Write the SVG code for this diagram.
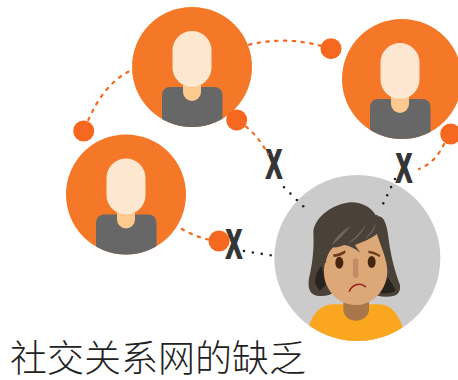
<svg xmlns="http://www.w3.org/2000/svg" width="458" height="380" viewBox="0 0 458 380">
<style>
.bg{fill:#f57828}.head{fill:#fee7d0}.neck{fill:#fcc98f}.body{fill:#666766}
.dot{fill:#f6681f}
.od{fill:none;stroke:#f6681f;stroke-width:2.200;stroke-linecap:round;stroke-dasharray:2.500 6.300}
.kd{fill:none;stroke:#222;stroke-width:2.600;stroke-linecap:round;stroke-dasharray:0 9}
.x{font-family:"Liberation Sans",sans-serif;font-weight:700;font-size:41px;fill:#353535;stroke:#353535;stroke-width:2;text-anchor:middle}
.t{font-family:"Liberation Serif","Noto Sans CJK SC",serif;font-size:37px;font-weight:300;fill:#222}
.hair{fill:#4a4238}.shade{fill:#27231f}.hl{fill:#6f675d}
</style>
<defs>
<clipPath id="ct"><circle cx="192" cy="67" r="60"/></clipPath>
<clipPath id="cr"><circle cx="402" cy="79" r="60"/></clipPath>
<clipPath id="cl"><circle cx="126" cy="194.500" r="60"/></clipPath>
<clipPath id="cg"><circle cx="157" cy="189" r="249"/></clipPath>
<g id="figure">
<rect class="body" x="-30" y="20" width="60.500" height="60" rx="8"/>
<path class="neck" d="M-9,10H9V25A9,9 0 0 1 -9,25Z"/>
<rect class="head" x="-19.500" y="-36" width="39" height="56" rx="19.500"/>
</g>
</defs>
<g id="person-top"><circle class="bg" cx="192" cy="67" r="60"/><g clip-path="url(#ct)"><use href="#figure" x="192" y="67"/></g></g>
<g id="person-right"><circle class="bg" cx="402" cy="79" r="60"/><g clip-path="url(#cr)"><use href="#figure" x="400" y="79"/></g></g>
<g id="person-left"><circle class="bg" cx="126" cy="194.500" r="60"/><g clip-path="url(#cl)"><use href="#figure" x="126" y="194.500"/></g></g>
<g id="dots">
<circle class="dot" cx="83.700" cy="131" r="10.500"/>
<circle class="dot" cx="236.700" cy="120" r="10.500"/>
<circle class="dot" cx="331" cy="48.700" r="10.500"/>
<circle class="dot" cx="450.700" cy="134" r="10.500"/>
<circle class="dot" cx="219" cy="241" r="10.500"/>
</g>
<g id="marks">
<text class="x" transform="translate(274,177.500) scale(.58,.97)">X</text>
<text class="x" transform="translate(404,181.500) scale(.58,.97)">X</text>
<text class="x" transform="translate(234,257.500) scale(.58,.97)">X</text>
</g>
<g id="sad-person" transform="translate(305,195) scale(.33333)">
<circle cx="157" cy="189" r="249" fill="#cbcbcb"/>
<g clip-path="url(#cg)">
<path class="hair" d="M140,22C172,22 200,38 215,65C235,58 245,85 250,125C255,170 268,225 285,270C288,295 275,305 245,305C225,305 205,300 185,290H90C75,302 55,305 35,302C12,298 8,275 12,250C22,210 28,160 25,110C30,65 85,25 140,22Z"/>
<path class="shade" d="M30,262C32,240 38,225 50,212L62,270L45,287C38,280 33,272 30,262ZM215,290L250,248C258,262 268,275 272,287C255,297 232,298 215,290Z"/>
<path fill="#fba61f" d="M13,390C25,350 55,328 85,328H225C260,330 280,360 292,395V445H13Z"/>
<path fill="#a97649" d="M115,315H192V345C190,367 170,377 153,377C135,377 117,367 115,345Z"/>
<path fill="#dca878" d="M57,225C60,190 70,165 90,150L215,115C228,155 247,195 247,230C245,285 205,330 152,330C100,330 55,285 57,225Z"/>
<path class="hair" d="M62,205C66,178 76,165 85,157C95,158 105,155 118,150C132,152 150,160 166,173C160,165 155,158 150,150C175,140 200,130 216,116L218,60L60,60L50,200Z"/>
<path class="hl" d="M80,150C95,122 115,105 137,92C122,112 105,132 80,150ZM125,146C145,135 165,115 183,88C172,115 152,138 125,146ZM178,132C192,120 205,103 213,84C210,105 198,122 178,132Z"/>
<path fill="#6b3f1c" d="M84,178C98,178 110,172 120,166L122,173C110,182 98,186 86,186Z"/>
<path fill="#6b3f1c" d="M190,167C205,168 218,174 226,181L224,187C214,180 202,176 190,174Z"/>
<ellipse cx="103" cy="203" rx="12" ry="18" fill="#46250f"/>
<ellipse cx="200" cy="201" rx="12" ry="18" fill="#46250f"/>
<rect x="144" y="190" width="16" height="59" rx="8" fill="#c58a66"/>
<path fill="none" stroke="#9c1f1f" stroke-width="4.500" stroke-linecap="round" d="M133,289C141,270 165,260 181,275"/>
</g>
</g>
<g id="connectors">
<path class="od" d="M128.500,71.700Q103,85 87.500,122"/>
<path class="od" d="M249,44.700Q285,36 321.700,46"/>
<path class="od" d="M246,126.700Q258,136 268,154"/>
<path class="od" d="M444,144Q436,162 419,169"/>
<path class="od" d="M181.700,229Q194,236 208,239.500"/>
<path class="kd" d="M284,187.300L304,207"/>
<path class="kd" d="M395,179L383,204"/>
<path class="kd" d="M244,251L272,255.500"/>
</g>
<text class="t" x="10" y="372">社交关系网的缺乏</text>
</svg>
